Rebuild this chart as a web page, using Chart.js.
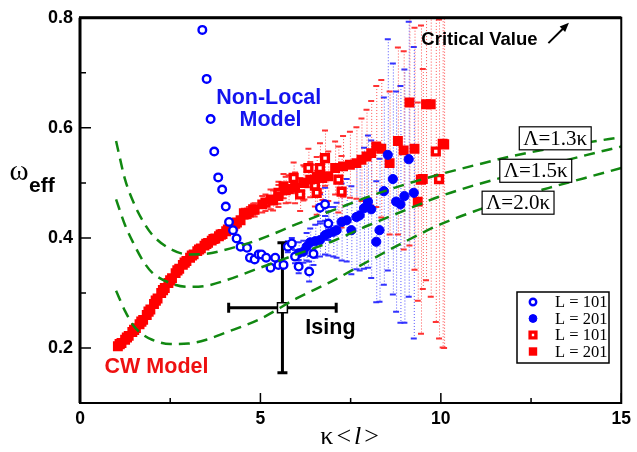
<!DOCTYPE html>
<html lang="en">
<head>
<meta charset="UTF-8">
<title>omega_eff vs kappa&lt;l&gt;</title>
<script src="https://cdn.jsdelivr.net/npm/chart.js@4.4.0/dist/chart.umd.min.js"></script>
<style>
  html, body { margin: 0; padding: 0; background: #fff; }
  #wrap { width: 637px; height: 452px; }
</style>
</head>
<body>
<div id="wrap"><canvas id="chart" width="637" height="452"></canvas></div>
<script>
// values (x = kappa<l>, y = omega_eff)

// Non-local model, L = 101 (open blue circles)
const nl101X = [3.39, 3.51, 3.62, 3.72, 3.83, 3.94, 4.04, 4.13, 4.24, 4.34, 4.45, 4.63, 4.71, 4.84, 4.95,
                5.03, 5.16, 5.28, 5.41, 5.50, 5.64, 5.76, 5.87, 5.96, 6.06, 6.35, 6.47, 6.65, 6.79, 6.88];
const nl101Y = [0.778, 0.689, 0.616, 0.557, 0.510, 0.488, 0.457, 0.429, 0.414, 0.399, 0.384, 0.382, 0.364, 0.361, 0.370,
                0.370, 0.364, 0.346, 0.364, 0.351, 0.351, 0.384, 0.390, 0.366, 0.348, 0.339, 0.371, 0.455, 0.461, 0.426];
const nl101Err = [0, 0, 0, 0, 0, 0, 0, 0, 0, 0, 0, 0, 0, 0, 0,
                  0, 0, 0, 0, 0, 0, 0.01, 0.01, 0.012, 0.012, 0.018, 0.02, 0.025, 0.03, 0.03];

// Non-local model, L = 201 (filled blue circles)
const nl201X = [6.06, 6.19, 6.28, 6.38, 6.52, 6.65, 6.79, 6.88, 7.02, 7.11, 7.25, 7.39, 7.52, 7.66,
                7.75, 7.87, 7.98, 8.07, 8.21, 8.30, 8.42, 8.53, 8.67, 8.76, 8.88, 8.99, 9.11, 9.25];
const nl201Y = [0.372, 0.375, 0.384, 0.392, 0.394, 0.396, 0.405, 0.408, 0.411, 0.414, 0.429, 0.432, 0.414, 0.438,
                0.441, 0.454, 0.466, 0.452, 0.393, 0.414, 0.485, 0.551, 0.507, 0.466, 0.461, 0.476, 0.543, 0.482];
const nl201Err = [0.02, 0.02, 0.025, 0.025, 0.03, 0.03, 0.035, 0.04, 0.045, 0.05, 0.07, 0.075, 0.08, 0.095,
                  0.10, 0.11, 0.12, 0.125, 0.11, 0.13, 0.17, 0.21, 0.21, 0.20, 0.215, 0.23, 0.25, 0.265];

// CW model, L = 101 (open red squares)
const cw101X = [1.10, 1.30, 1.50, 1.70, 1.90, 2.10, 2.30, 2.50, 2.70, 2.90, 3.10, 3.30, 3.50, 3.70, 3.90, 4.10, 4.30,
                4.59, 4.80, 5.14, 5.35, 5.50, 5.70, 5.92, 6.10, 6.19, 6.33, 6.51, 6.56, 6.65, 6.79, 7.16, 7.25,
                9.45, 9.86, 9.95, 10.09];
const cw101Y = [0.207, 0.219, 0.233, 0.248, 0.266, 0.286, 0.305, 0.323, 0.341, 0.355, 0.368, 0.379, 0.389, 0.398, 0.406, 0.415, 0.426,
                0.443, 0.452, 0.464, 0.468, 0.482, 0.487, 0.509, 0.479, 0.500, 0.527, 0.495, 0.482, 0.527, 0.545, 0.506, 0.484,
                0.506, 0.557, 0.507, 0.570];
const cw101Err = [0, 0, 0, 0, 0, 0, 0, 0, 0, 0, 0, 0, 0, 0, 0, 0, 0,
                  0.008, 0.01, 0.015, 0.018, 0.02, 0.024, 0.028, 0.03, 0.032, 0.035, 0.038, 0.04, 0.045, 0.05, 0.06, 0.065,
                  0.28, 0.31, 0.29, 0.37];

// CW model, L = 201 (filled red squares)
const cw201X = [1.05, 1.15, 1.25, 1.35, 1.45, 1.55, 1.65, 1.75, 1.85, 1.95, 2.05, 2.15, 2.25, 2.35, 2.45, 2.55, 2.65, 2.75,
                2.85, 2.95, 3.05, 3.15, 3.25, 3.35, 3.45, 3.55, 3.65, 3.75, 3.85, 3.95, 4.05, 4.15, 4.25, 4.35, 4.45,
                4.54, 4.68, 4.84, 5.05, 5.28, 5.50, 5.64, 5.78, 5.96, 6.22, 6.38, 6.56, 6.72, 6.88, 7.07, 7.29, 7.48,
                7.66, 7.80, 7.94, 8.07, 8.21, 8.35, 8.58, 8.81, 8.97, 9.13, 9.27, 9.36, 9.50, 9.59, 9.72, 10.05];
const cw201Y = [0.203, 0.209, 0.215, 0.222, 0.229, 0.236, 0.243, 0.251, 0.260, 0.270, 0.280, 0.290, 0.300, 0.309, 0.318, 0.327, 0.336, 0.344,
                0.351, 0.358, 0.364, 0.370, 0.376, 0.381, 0.386, 0.391, 0.395, 0.399, 0.403, 0.407, 0.412, 0.417, 0.422, 0.428, 0.432,
                0.445, 0.446, 0.451, 0.461, 0.470, 0.476, 0.494, 0.489, 0.491, 0.500, 0.506, 0.511, 0.509, 0.512, 0.527, 0.530, 0.533,
                0.536, 0.542, 0.548, 0.554, 0.566, 0.562, 0.536, 0.576, 0.559, 0.646, 0.562, 0.466, 0.507, 0.643, 0.643, 0.571];
const cw201Err = [0, 0, 0, 0, 0, 0, 0, 0, 0, 0, 0, 0, 0, 0, 0, 0, 0, 0,
                  0, 0, 0, 0, 0, 0, 0, 0, 0, 0, 0, 0, 0, 0, 0, 0, 0,
                  0.008, 0.01, 0.012, 0.015, 0.018, 0.02, 0.022, 0.025, 0.028, 0.03, 0.032, 0.036, 0.04, 0.045, 0.048, 0.055, 0.06,
                  0.065, 0.075, 0.085, 0.095, 0.11, 0.125, 0.13, 0.17, 0.18, 0.26, 0.22, 0.18, 0.20, 0.32, 0.35, 0.37];

// Ising estimate with its error cross
const isingX = [5.61];
const isingY = [0.273];
const isingXErr = [1.49];
const isingYErr = [0.118];

// mean-field curves for three cut-offs
const curveX = [1, 1.25, 1.5, 1.75, 2, 2.5, 3, 3.5, 4, 5, 6, 7, 8, 9, 10, 11, 12, 13, 14, 15];
const lam13 = [0.576, 0.506, 0.462, 0.430, 0.406, 0.380, 0.370, 0.371, 0.378, 0.398, 0.425, 0.450, 0.475, 0.497, 0.516, 0.533, 0.549, 0.562, 0.573, 0.583];
const lam15 = [0.470, 0.423, 0.388, 0.358, 0.337, 0.318, 0.311, 0.313, 0.322, 0.346, 0.370, 0.394, 0.423, 0.450, 0.476, 0.497, 0.515, 0.533, 0.550, 0.566];
const lam20 = [0.304, 0.267, 0.239, 0.224, 0.215, 0.207, 0.208, 0.215, 0.227, 0.253, 0.290, 0.322, 0.358, 0.393, 0.425, 0.450, 0.472, 0.491, 0.509, 0.527];
const curveLabels = ['\u039B=1.3\u03BA', '\u039B=1.5\u03BA', '\u039B=2.0\u03BA'];
const legendLabels = ['L = 101', 'L = 201', 'L = 101', 'L = 201'];

const BLUE = '#0000ff';
const RED = '#ff0000';
const GREEN = '#118811';
const SANS = '"Liberation Sans", Arial, sans-serif';
const SERIF = '"Liberation Serif", "Times New Roman", serif';

const pts = (xs, ys) => xs.map((x, i) => ({ x: x, y: ys[i] }));

function curve(ys) {
    return {
        data: pts(curveX, ys),
        showLine: true,
        borderColor: GREEN,
        borderWidth: 2.5,
        borderDash: [11, 7],
        cubicInterpolationMode: 'monotone',
        pointRadius: 0
    };
}

const nl101 = { data: pts(nl101X, nl101Y), errors: nl101Err, errColor: 'rgba(40,40,255,0.8)', capColor: '#3333ff',
    pointStyle: 'circle', radius: 3.8, borderWidth: 2.4, borderColor: BLUE, backgroundColor: '#fff' };
const nl201 = { data: pts(nl201X, nl201Y), errors: nl201Err, errColor: 'rgba(40,40,255,0.8)', capColor: '#3333ff',
    pointStyle: 'circle', radius: 4.6, borderWidth: 1, borderColor: BLUE, backgroundColor: BLUE };
const cw101 = { data: pts(cw101X, cw101Y), errors: cw101Err, errColor: 'rgba(255,40,40,0.8)', capColor: '#ff3333',
    pointStyle: 'rect', radius: 4.8, borderWidth: 3.4, borderColor: RED, backgroundColor: '#fff' };
const cw201 = { data: pts(cw201X, cw201Y), errors: cw201Err, errColor: 'rgba(255,40,40,0.8)', capColor: '#ff3333',
    pointStyle: 'rect', radius: 7, borderWidth: 0, borderColor: RED, backgroundColor: RED };
const ising = { data: pts(isingX, isingY), xErr: isingXErr, yErr: isingYErr,
    pointStyle: 'rect', radius: 7, borderWidth: 1.5, borderColor: '#000', backgroundColor: '#fff' };

const legendSets = [nl101, nl201, cw101, cw201];

function dataToPx(chart, x, y) {
    return [chart.scales.x.getPixelForValue(x), chart.scales.y.getPixelForValue(y)];
}

const errorBars = {
    id: 'errorBars',
    beforeDatasetsDraw(chart) {
        const { ctx, chartArea: a } = chart;
        ctx.save();
        ctx.beginPath();
        ctx.rect(a.left, a.top, a.right - a.left, a.bottom - a.top);
        ctx.clip();
        chart.data.datasets.forEach(ds => {
            if (!ds.errors) return;
            ds.data.forEach((p, i) => {
                const e = ds.errors[i];
                if (!e) return;
                const [px, top] = dataToPx(chart, p.x, p.y + e);
                const bot = chart.scales.y.getPixelForValue(p.y - e);
                ctx.setLineDash([1, 2]);
                ctx.lineWidth = 1;
                ctx.strokeStyle = ds.errColor;
                ctx.beginPath();
                ctx.moveTo(px + 0.5, top);
                ctx.lineTo(px + 0.5, bot);
                ctx.stroke();
                ctx.setLineDash([]);
                ctx.lineWidth = 2;
                ctx.strokeStyle = ds.capColor;
                ctx.beginPath();
                ctx.moveTo(px - 3, top); ctx.lineTo(px + 3, top);
                ctx.moveTo(px - 3, bot); ctx.lineTo(px + 3, bot);
                ctx.stroke();
            });
        });
        // Ising cross
        ctx.strokeStyle = '#000';
        ctx.lineWidth = 3;
        isingX.forEach((x, i) => {
            const [cx, cy] = dataToPx(chart, x, isingY[i]);
            const [l] = dataToPx(chart, x - isingXErr[i], 0);
            const [r] = dataToPx(chart, x + isingXErr[i], 0);
            const t = chart.scales.y.getPixelForValue(isingY[i] + isingYErr[i]);
            const b = chart.scales.y.getPixelForValue(isingY[i] - isingYErr[i]);
            ctx.beginPath();
            ctx.moveTo(l, cy); ctx.lineTo(r, cy);
            ctx.moveTo(cx, t); ctx.lineTo(cx, b);
            ctx.moveTo(l, cy - 5); ctx.lineTo(l, cy + 5);
            ctx.moveTo(r, cy - 5); ctx.lineTo(r, cy + 5);
            ctx.moveTo(cx - 5, t); ctx.lineTo(cx + 5, t);
            ctx.moveTo(cx - 5, b); ctx.lineTo(cx + 5, b);
            ctx.stroke();
        });
        ctx.restore();
    }
};

function text(ctx, str, x, y, font, color, align) {
    ctx.font = font;
    ctx.fillStyle = color;
    ctx.textAlign = align || 'center';
    ctx.textBaseline = 'middle';
    ctx.fillText(str, x, y);
}

const decorations = {
    id: 'decorations',
    afterDatasetsDraw(chart) {
        const { ctx, chartArea: a, scales: { x, y } } = chart;
        ctx.save();

        // frame
        ctx.strokeStyle = '#000';
        ctx.lineWidth = 2;
        ctx.strokeRect(a.left, a.top, a.right - a.left, a.bottom - a.top);
        ctx.lineWidth = 3;
        ctx.beginPath();
        ctx.moveTo(a.left - 1, a.top); ctx.lineTo(a.right, a.top);
        ctx.moveTo(a.left, a.top); ctx.lineTo(a.left, a.bottom);
        ctx.stroke();

        // inward ticks
        ctx.lineWidth = 1.5;
        ctx.beginPath();
        x.ticks.forEach(t => {
            const px = x.getPixelForValue(t.value);
            const len = t.value % 5 === 0 ? 10 : 5;
            ctx.moveTo(px, a.bottom); ctx.lineTo(px, a.bottom - len);
        });
        y.ticks.forEach(t => {
            const py = y.getPixelForValue(t.value);
            const len = Math.round(t.value * 10) % 2 === 0 ? 11 : 6;
            ctx.moveTo(a.left, py); ctx.lineTo(a.left + len, py);
        });
        ctx.stroke();

        // text notes
        const bold = s => 'bold ' + s + 'px ' + SANS;
        let p = dataToPx(chart, 5.23, 0.655);
        text(ctx, 'Non-Local', p[0], p[1], bold(21.5), '#1414ee');
        p = dataToPx(chart, 5.28, 0.614);
        text(ctx, 'Model', p[0], p[1], bold(21.5), '#1414ee');
        p = dataToPx(chart, 2.12, 0.166);
        text(ctx, 'CW Model', p[0], p[1], bold(21.5), '#ee1111');
        p = dataToPx(chart, 6.94, 0.236);
        text(ctx, 'Ising', p[0], p[1], bold(21.5), '#000');
        p = dataToPx(chart, 11.07, 0.759);
        text(ctx, 'Critical Value', p[0], p[1], bold(18.5), '#000');

        // arrow to the critical value
        const a0 = dataToPx(chart, 12.98, 0.754);
        const a1 = dataToPx(chart, 13.55, 0.791);
        const ang = Math.atan2(a1[1] - a0[1], a1[0] - a0[0]);
        ctx.strokeStyle = '#000';
        ctx.fillStyle = '#000';
        ctx.lineWidth = 2;
        ctx.beginPath();
        ctx.moveTo(a0[0], a0[1]);
        ctx.lineTo(a1[0] - 6 * Math.cos(ang), a1[1] - 6 * Math.sin(ang));
        ctx.stroke();
        ctx.beginPath();
        ctx.moveTo(a1[0], a1[1]);
        ctx.lineTo(a1[0] - 10 * Math.cos(ang - 0.4), a1[1] - 10 * Math.sin(ang - 0.4));
        ctx.lineTo(a1[0] - 10 * Math.cos(ang + 0.4), a1[1] - 10 * Math.sin(ang + 0.4));
        ctx.closePath();
        ctx.fill();

        // boxed curve labels
        const boxAt = [[13.17, 0.581], [12.63, 0.522], [12.14, 0.464]];
        ctx.font = '21px ' + SERIF;
        curveLabels.forEach((lab, i) => {
            const c = dataToPx(chart, boxAt[i][0], boxAt[i][1]);
            const w = ctx.measureText(lab).width + 8;
            const h = 23;
            ctx.fillStyle = '#fff';
            ctx.fillRect(c[0] - w / 2, c[1] - h / 2, w, h);
            ctx.strokeStyle = '#000';
            ctx.lineWidth = 1.2;
            ctx.strokeRect(c[0] - w / 2, c[1] - h / 2, w, h);
            text(ctx, lab, c[0], c[1] + 1, '21px ' + SERIF, '#000');
            ctx.font = '21px ' + SERIF;
        });

        // legend
        const lx = 517, ly = 292, lw = 92, lh = 71;
        ctx.fillStyle = '#fff';
        ctx.fillRect(lx, ly, lw, lh);
        ctx.strokeStyle = '#000';
        ctx.lineWidth = 1.5;
        ctx.strokeRect(lx, ly, lw, lh);
        legendSets.forEach((ds, i) => {
            const ry = ly + 10 + i * 16.5;
            ctx.fillStyle = ds.backgroundColor;
            ctx.strokeStyle = ds.borderColor;
            ctx.lineWidth = ds.borderWidth;
            Chart.helpers.drawPoint(ctx, {
                pointStyle: ds.pointStyle, radius: ds.radius * 0.85, borderWidth: ds.borderWidth, rotation: 0
            }, lx + 16, ry);
            text(ctx, legendLabels[i], lx + 38, ry + 1, '16.5px ' + SERIF, '#000', 'left');
        });

        // axis titles
        text(ctx, '\u03C9', 19, 172, '29px ' + SERIF, '#000');
        text(ctx, 'eff', 29, 186, bold(21), '#000', 'left');
        const cx = x.getPixelForValue(7.5);
        const parts = [['\u03BA', '26px ' + SERIF], ['<', '26px ' + SERIF], ['l', 'italic 26px ' + SERIF], ['>', '26px ' + SERIF]];
        const widths = parts.map(q => { ctx.font = q[1]; return ctx.measureText(q[0]).width; });
        const gap = 3;
        const total = widths.reduce((s, w) => s + w, 0) + gap * (parts.length - 1);
        let xx = cx - total / 2 - 1;
        parts.forEach((q, i) => {
            text(ctx, q[0], xx, 437, q[1], '#000', 'left');
            xx += widths[i] + gap;
        });

        ctx.restore();
    }
};

new Chart(document.getElementById('chart'), {
    type: 'scatter',
    data: {
        // first dataset is drawn on top
        datasets: [curve(lam13), curve(lam15), curve(lam20), ising, nl101, nl201, cw201, cw101]
    },
    options: {
        responsive: false,
        animation: false,
        devicePixelRatio: 1,
        layout: { padding: { left: 0, top: 12, right: 12, bottom: 0 } },
        plugins: { legend: { display: false }, tooltip: { enabled: false } },
        scales: {
            x: {
                type: 'linear', min: 0, max: 15,
                afterFit(s) { s.height = 49; },
                grid: { display: false, drawTicks: false },
                border: { display: false },
                ticks: {
                    stepSize: 2.5, padding: 6, color: '#000', maxRotation: 0,
                    font: { family: SANS, size: 17.5, weight: 'bold' },
                    callback: v => (v % 5 === 0 ? String(v) : '')
                }
            },
            y: {
                type: 'linear', min: 0.1, max: 0.8,
                afterFit(s) { s.width = 80; },
                grid: { display: false, drawTicks: false },
                border: { display: false },
                ticks: {
                    stepSize: 0.1, padding: 7, color: '#000',
                    font: { family: SANS, size: 18, weight: 'bold' },
                    callback: v => {
                        const k = Math.round(v * 10);
                        return k % 2 === 0 ? (k / 10).toFixed(1) : '';
                    }
                }
            }
        }
    },
    plugins: [errorBars, decorations]
});
</script>
</body>
</html>
